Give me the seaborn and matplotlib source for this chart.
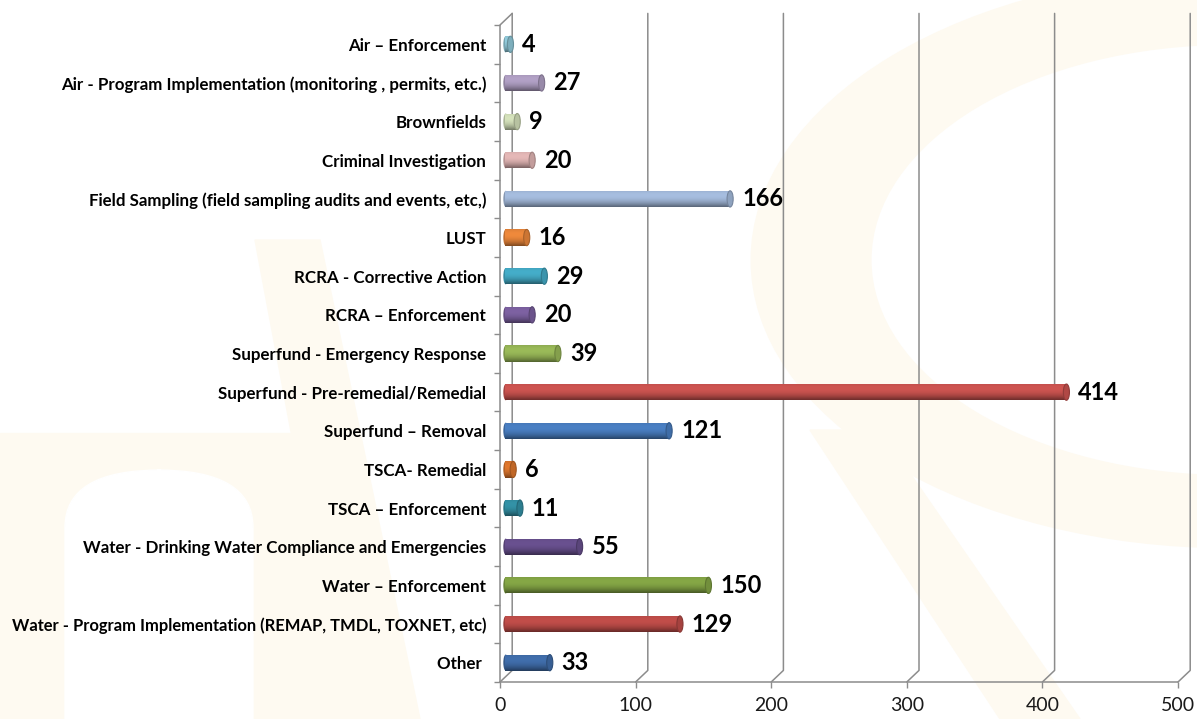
import matplotlib
matplotlib.use("Agg")
import matplotlib.pyplot as plt
import matplotlib.colors as mcolors
from matplotlib.patches import Ellipse, Rectangle, Wedge, Polygon, FancyBboxPatch
import numpy as np
import seaborn as sns

# data
categories = [
    "Air \u2013 Enforcement",
    "Air - Program Implementation (monitoring , permits, etc.)",
    "Brownfields",
    "Criminal Investigation",
    "Field Sampling (field sampling audits and events, etc,)",
    "LUST",
    "RCRA - Corrective Action",
    "RCRA \u2013 Enforcement",
    "Superfund - Emergency Response",
    "Superfund - Pre-remedial/Remedial",
    "Superfund \u2013 Removal",
    "TSCA- Remedial",
    "TSCA \u2013 Enforcement",
    "Water - Drinking Water Compliance and Emergencies",
    "Water \u2013 Enforcement",
    "Water - Program Implementation (REMAP, TMDL, TOXNET, etc)",
    "Other ",
]
values = [4, 27, 9, 20, 166, 16, 29, 20, 39, 414, 121, 6, 11, 55, 150, 129, 33]
bar_colors = ["#93CDDD", "#B3A2C7", "#D7E4BD", "#E6B9B8", "#A7BEE0", "#F08A3C",
              "#45AECA", "#7E62A3", "#9BBB59", "#CF5551", "#4A80C4", "#E2792E",
              "#3493A8", "#6A5190", "#86A846", "#C24E4A", "#416FAD"]
x_ticks = [0, 100, 200, 300, 400, 500]

sns.set_style("white")
plt.rcParams["font.family"] = ["Lato", "DejaVu Sans"]

fig = plt.figure(figsize=(11.97, 7.19), dpi=100)

# faint watermark in the background
wm = "#FEFAF1"
def fx(px):
    return px / 1197
def fy(py):
    return 1 - py / 719

fig.patches.append(Wedge((fx(1230), fy(260)), 0.40, 0, 360, width=0.10,
                         transform=fig.transFigure, color=wm, zorder=-2))
fig.patches.append(Rectangle((0, 0), fx(360), fy(433),
                             transform=fig.transFigure, color=wm, zorder=-2))
fig.patches.append(FancyBboxPatch((fx(65), -0.1), fx(188), 0.1 + fy(470),
                                  boxstyle="round,pad=0,rounding_size=0.08",
                                  transform=fig.transFigure, color="white", zorder=-1))
fig.patches.append(Polygon([(fx(255), fy(240)), (fx(320), fy(240)),
                            (fx(420), fy(719)), (fx(345), fy(719))],
                           transform=fig.transFigure, color=wm, zorder=-2))
fig.patches.append(Polygon([(fx(810), fy(430)), (fx(880), fy(430)),
                            (fx(1080), fy(719)), (fx(1000), fy(719))],
                           transform=fig.transFigure, color=wm, zorder=-2))

ax = fig.add_axes([fx(500), fy(682), 678 / 1197, (682 - 25) / 719])
ax.patch.set_alpha(0)
ax.set_zorder(1)

sns.barplot(x=values, y=categories, hue=categories, palette=bar_colors,
            legend=False, orient="h", width=0.42, ax=ax, zorder=3)

ax.set_xlim(0, 500)
ax.set_ylim(len(categories) - 0.5, -0.5)

# pseudo-3D back wall gridlines
dx, dy = 9, 0.3
for t in x_ticks:
    ax.plot([t, t + dx, t + dx], [16.5, 16.5 - dy, -0.5 - dy], color="#8C8C8C",
            lw=1.1, clip_on=False, zorder=1)
ax.plot([0, 0, dx], [16.5, -0.5, -0.5 - dy], color="#8C8C8C", lw=1.1,
        clip_on=False, zorder=1)
ax.plot([0, 500], [16.5, 16.5], color="#8C8C8C", lw=1.1, clip_on=False, zorder=1)

# cylinder shading on each bar (bars sit a little behind the front plane)
depth = 3.7
t = np.linspace(0, 1, 60)
shade = 1 - 0.45 * (t - 0.3) ** 2 * 2.2
shade = np.clip(shade, 0.55, 1.08)
for p, c in zip(ax.patches, bar_colors):
    p.set_x(p.get_x() + depth)
    x0, y0, w, h = p.get_x(), p.get_y(), p.get_width(), p.get_height()
    base = np.array(mcolors.to_rgb(c))
    img = np.clip(base[None, :] * shade[:, None]
                  + np.where(shade[:, None] > 1, (shade[:, None] - 1) * 1.5, 0), 0, 1)
    img = img[:, None, :]
    im = ax.imshow(img, extent=(x0, x0 + w, y0 + h, y0), aspect="auto",
                   zorder=4, interpolation="bilinear")
    im.set_clip_path(p)
    dark = base * 0.7
    ax.add_patch(Ellipse((x0 + w, y0 + h / 2), 4.5, h, facecolor=base * 0.85,
                         edgecolor=dark, lw=0.8, zorder=5))
    ax.add_patch(Ellipse((x0 + 0.5, y0 + h / 2), 3.5, h, facecolor=base * 0.8,
                         edgecolor="none", zorder=3.5))
    p.set_edgecolor("none")

ax.set_xlim(0, 500)
ax.set_ylim(len(categories) - 0.5, -0.5)

# value labels
for i, v in enumerate(values):
    ax.text(v + 12.5, i, str(v), va="center", ha="left", fontsize=17,
            fontweight="bold", color="black", zorder=6, clip_on=False)

for s in ax.spines.values():
    s.set_visible(False)

ax.set_xticks(x_ticks)
ax.set_xticklabels([str(x) for x in x_ticks], fontsize=14, color="#1A1A1A")
ax.tick_params(axis="x", length=4.5, width=1, color="#8C8C8C", pad=6, bottom=True)
ax.tick_params(axis="y", which="major", length=0, pad=10)
ax.set_yticks(np.arange(-0.5, 17, 1), minor=True)
ax.tick_params(axis="y", which="minor", length=4, width=1, color="#8C8C8C", left=True)
for lab in ax.get_yticklabels():
    lab.set_fontweight("bold")
    lab.set_fontsize(11.9 if "REMAP" in lab.get_text() else 12.2)
    lab.set_color("black")
ax.set_xlabel("")
ax.set_ylabel("")

fig.savefig("out.png", dpi=100)
